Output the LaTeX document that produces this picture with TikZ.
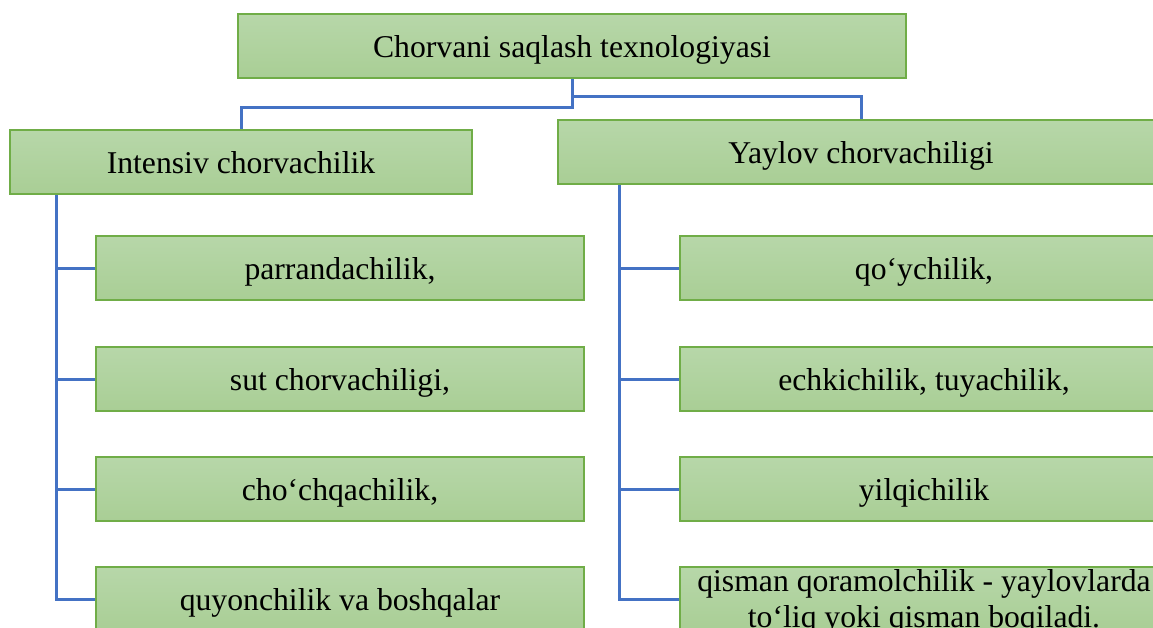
\documentclass[tikz,border=0pt]{standalone}
\usepackage{fontspec}
\setmainfont{Liberation Serif}
\definecolor{boxline}{HTML}{70AD47}
\definecolor{boxtop}{HTML}{B7D7A9}
\definecolor{boxbottom}{HTML}{A9CE95}
\definecolor{linkblue}{HTML}{4472C4}

\begin{document}
\begin{tikzpicture}[x=1pt,y=-1pt]
		\tikzstyle{box}=[draw=boxline,line width=1.5pt,top color=boxtop,bottom color=boxbottom,minimum height=64pt,inner sep=0pt,text height=22pt,text depth=0pt,font=\fontsize{31.7}{36}\selectfont]
		\tikzstyle{root box}=[box, minimum width=668pt]
		\tikzstyle{branch box}=[box];
		\tikzstyle{leaf box}=[box, minimum width=488pt];
		\tikzstyle{link}=[draw=linkblue,line width=3pt]
		
		% Page size; the right and bottom boxes run off the page
		\useasboundingbox (0,0) rectangle (1153,627);
		\clip (0,0) rectangle (1153,627);
		
		% Draw the top box and the two branches
		\node[root box] (T) at (572,46) {Chorvani saqlash texnologiyasi};
		\node[branch box, minimum width=462pt] (I) at (241,162) {Intensiv chorvachilik};
		\node[branch box, minimum width=606pt] (Y) at (861,152) {Yaylov chorvachiligi};
		
		% Draw the leaf boxes
		\foreach \name / \y / \txt in {1/268/{parrandachilik,}, 2/379/{sut chorvachiligi,}, 3/489/{cho‘chqachilik,}, 4/599/{quyonchilik va boshqalar}}
			\node[leaf box] (I-\name) at (340,\y) {\txt};
		\foreach \name / \y / \txt in {1/268/{qo‘ychilik,}, 2/379/{echkichilik, tuyachilik,}, 3/489/{yilqichilik}}
			\node[leaf box] (Y-\name) at (924,\y) {\txt};
		\node[leaf box, label={[align=center,yshift=-3pt,font=\fontsize{31.7}{36}\selectfont]center:qisman qoramolchilik - yaylovlarda\\to‘liq yoki qisman boqiladi.}] (Y-4) at (924,599) {};
		
		% Connect the top box with the branches
		\draw[link] (T.south) -- ++(0,29) -| (I.north);
		\draw[link] (T.south) -- ++(0,18) -| (Y.north);
		
		% Connect every branch with its leaves
		\coordinate (I-spine) at ([xshift=47pt]I.south west);
		\coordinate (Y-spine) at ([xshift=62pt]Y.south west);
		\draw[link] (I-spine) |- (I-4.west);
		\draw[link] (Y-spine) |- (Y-4.west);
		\foreach \dest in {1,...,3}
		{
			\draw[link] (I-spine |- I-\dest.west) -- (I-\dest.west);
			\draw[link] (Y-spine |- Y-\dest.west) -- (Y-\dest.west);
		}
	\end{tikzpicture}
\end{document}
